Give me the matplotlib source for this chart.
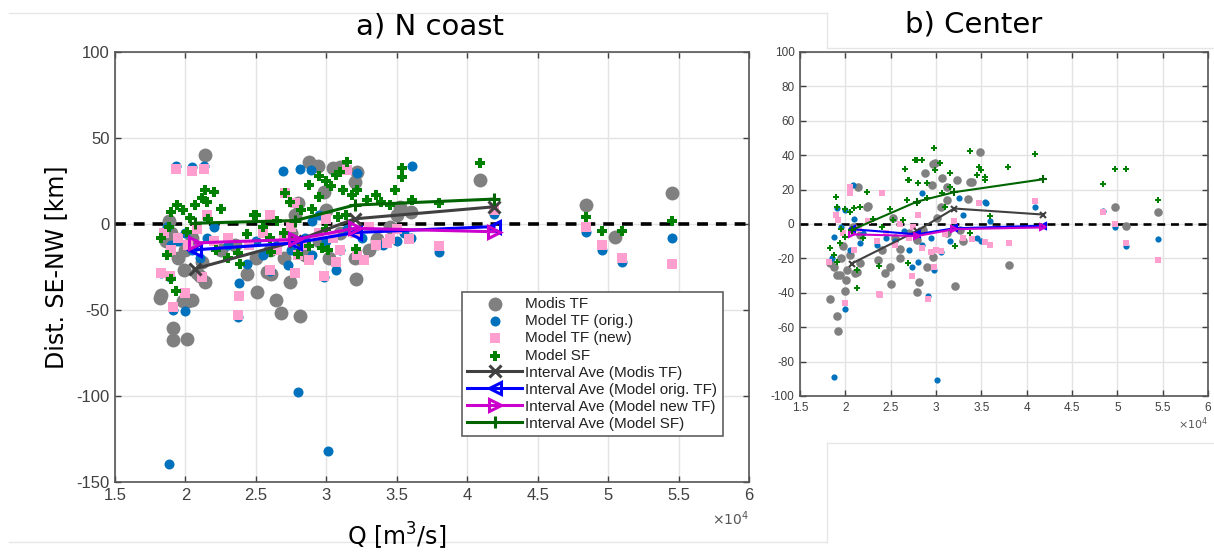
import matplotlib
matplotlib.use("Agg")
import matplotlib.pyplot as plt
from matplotlib.ticker import FuncFormatter, MultipleLocator
from matplotlib.lines import Line2D

# ---------------- data (Q in units of 1e4 m3/s, distance in km) ----------------
A_MODIS = [(2.14,40),(1.88,2),(1.83,-41),(1.82,-43),(1.91,-60.5),(1.91,-67.5),(2.01,-67),(2.05,-44),
           (1.98,-45),(2.02,-45),(2.08,-28.5),(1.99,-27),(2.14,-34),(2.1,-30),(1.95,-20),(2.0,-15),
           (1.9,-5),(1.86,-10),(2.05,-8),(2.12,-22),(2.44,-29),(2.51,-39.5),(2.64,-44),(2.68,-52),
           (2.81,-53.5),(2.74,-34),(2.58,-28),(2.61,-29),(3.21,-32),(2.5,-20),(2.6,-15),(2.88,36),
           (2.94,34),(3.05,32.5),(3.1,33),(3.22,30),(2.8,12),(2.98,18.5),(3.2,24.5),(3.52,10),
           (2.78,5),(3.0,8),(3.1,-5),(3.36,-9),(3.36,-11),(3.3,-15),(2.95,-10),(3.45,-2),(3.5,5),
           (3.6,7),(2.75,-5),(2.85,-18),(3.02,-20),(3.2,-20),(2.7,-20),(4.09,25.6),(4.84,11),
           (5.05,-7.5),(5.45,18),(2.35,-12),(2.25,-15)]
A_ORIG = [(1.93,34),(2.05,33),(2.13,34),(1.83,-28.5),(1.89,-31),(1.91,-50),(2.0,-50.5),(1.88,-139.5),
          (2.38,-34.5),(2.37,-54),(2.44,-23),(2.8,-97.5),(3.01,-132),(2.73,-24),(2.6,-27.5),(2.69,31),
          (2.81,32),(2.89,31.5),(3.22,29.5),(3.61,34),(3.07,-27),(2.98,-31),(3.8,-16),(4.84,-4.5),
          (4.96,-15),(5.1,-22),(5.45,-8),(4.19,6),(1.95,-10),(2.0,-5),(2.05,-15),(2.1,-20),(1.87,-2),
          (2.15,-8),(2.3,-12),(2.5,-10),(2.55,-18),(2.65,-12),(2.75,-15),(2.85,-8),(2.9,-18),(3.0,-10),
          (3.1,-15),(3.15,-3),(3.25,-8),(3.4,-12),(3.5,-10),(3.55,-5),(3.6,-8),(2.9,2),(2.95,5),
          (1.9,-12),(2.2,-2)]
A_NEW = [(1.93,32),(2.05,31),(2.13,32),(1.83,-28.5),(1.89,-30),(1.91,-48),(2.0,-40),(2.12,-31),
         (2.38,-42),(2.37,-53),(2.6,-26.7),(2.78,-28.5),(2.88,-21),(2.98,-30),(3.07,-22),(3.27,-21),
         (3.22,-18),(3.43,-11),(3.45,-9),(3.59,-9),(2.71,18),(3.15,31.5),(3.8,-13),(4.84,-2),
         (4.96,-12),(5.1,-20),(5.45,-23),(4.19,8),(1.85,-5),(1.95,-8),(2.02,-12),(2.08,-3),(2.15,5),
         (2.2,-10),(2.3,-8),(2.45,-12),(2.55,-5),(2.65,-15),(2.7,-8),(2.75,-2),(2.8,-18),(2.85,-12),
         (2.95,-5),(3.05,-8),(3.1,-15),(3.2,-5),(3.3,-2),(3.35,-12),(3.5,-3),(2.78,12),(2.6,5),
         (3.0,3),(1.9,-15)]
A_SF = [(2.14,20),(2.2,18.6),(2.12,15),(2.15,13),(2.07,11),(1.94,11),(1.9,7),(1.98,8),(2.25,9),
        (2.5,5),(2.03,3.5),(2.16,3),(1.88,-2),(2.01,-4.6),(1.83,-8),(2.44,-6),(1.9,-32),(1.93,-39),
        (2.37,-17),(2.39,-23),(1.87,-18),(3.15,36),(3.54,32.5),(3.54,27.5),(3.07,28.5),(2.88,22.7),
        (2.71,18),(2.74,13),(2.95,15.7),(3.03,22),(3.12,19.8),(3.22,19.8),(3.29,14),(3.39,13),
        (3.49,19.8),(3.45,11),(3.61,14),(3.08,4),(3.14,5),(2.9,9),(2.49,5),(2.61,-16),(2.8,-17.5),
        (2.88,-13),(2.97,-14),(3.01,-15),(3.21,-14.5),(4.09,35.5),(4.84,4),(4.96,-4),(5.1,-4),
        (5.45,2),(3.8,12),(2.6,-8),(2.7,-5),(2.95,28),(3.0,25),(3.1,30),(3.18,17),(2.82,8),
        (3.35,17),(2.65,2),(2.55,-2),(3.0,-3),(2.22,-15),(2.3,-20)]

A_INT_Q = [2.07, 2.78, 3.2, 4.19]
A_INT_MODIS = [-26, -10, 3, 10]
A_INT_ORIG = [-15, -11, -5, -1.5]
A_INT_NEW = [-11, -9, -2.5, -4.5]
A_INT_SF = [0.5, 2, 11, 14.5]

B_MODIS = [(3.49,42),(2.88,29.6),(2.97,35),(3.07,27),(3.23,25.6),(3.37,24.5),(3.35,14.5),(2.24,10),
           (3.8,-24),(4.97,10),(5.1,-1),(5.45,7),(2.97,-19),(2.9,-25),(1.91,-29.6),(1.83,-43.6),
           (1.91,-53.5),(1.92,-62),(2.0,-39),(2.01,-32.6),(2.11,-28.7),(2.44,-28.7),(2.5,-35),
           (2.49,-25),(2.81,-33.6),(2.79,-39.6),(3.21,-36),(1.87,-25),(1.83,-22.7),(2.02,-26.7),
           (2.16,-22.7),(1.97,-13),(2.16,-6.4),(2.36,-21),(2.6,-14.5),(2.79,-9.3),(2.86,-3.5),
           (3.12,-5.2),(3.26,-3.5),(3.01,3.5),(3.12,21.5),(2.96,22.7),(2.53,3.5),(2.09,-1.7),
           (3.12,14),(2.14,21.5),(2.25,10.5),(2.99,35.4),(2.6,-20),(3.4,24.4),(1.94,-29.6),
           (2.13,-28),(1.95,-20),(2.05,-18),(2.4,-15),(2.7,-5),(3.05,10),(3.3,-10),(2.55,-8)]
B_ORIG = [(1.87,-88.8),(3.01,-90.7),(2.0,-49.6),(2.91,-42),(2.74,-25),(2.98,-26.7),(2.8,-22),
          (4.09,10),(4.97,-2),(5.1,-13),(5.45,-8.7),(4.84,7.6),(3.55,12),(2.09,22.6),(1.91,9.3),
          (2.0,8),(1.87,-7.5),(2.16,-11),(3.54,12.8),(1.95,-2),(2.05,-15),(2.1,3),(2.2,-5),
          (2.35,-12),(2.45,-8),(2.55,-10),(2.65,-4),(2.7,-15),(2.85,-12),(2.95,-8),(3.05,-16),
          (3.15,-10),(3.2,-2),(3.3,5),(3.45,-8),(3.5,-10),(3.6,2),(2.85,18),(3.25,15),(1.85,-20)]
B_NEW = [(2.0,-46),(2.37,-40.7),(2.74,-30),(2.91,-43.6),(2.98,-25),(5.45,-21),(1.82,-22),
         (4.09,13.4),(4.84,7),(4.97,0),(5.1,-10.8),(3.8,-10.8),(3.47,12),(3.54,-10.7),(2.05,21.5),
         (2.05,18),(1.92,2.3),(2.38,-41),(1.9,5),(1.97,-5),(2.1,-15),(2.15,-3),(2.25,2),(2.35,-10),
         (2.45,-5),(2.55,-12),(2.6,0),(2.7,-8),(2.8,5),(2.85,-14),(2.95,-16),(3.0,-15),(3.05,-15.5),
         (3.1,-6),(3.2,2),(3.3,-8),(3.4,-9),(3.6,-12),(2.4,18),(2.75,-2)]
B_SF = [(2.98,44),(3.38,42.5),(4.09,40.6),(3.79,33),(4.84,23),(4.97,31.8),(5.1,31.8),(5.45,14),
        (2.77,37),(2.85,37),(2.66,31.8),(3.04,35.4),(3.15,29.6),(3.47,33),(3.5,31.4),(3.45,28.5),
        (3.54,25.6),(1.9,15.7),(2.24,18.6),(2.1,9.3),(2.16,10),(2.69,25.6),(2.8,23.8),(2.9,24),
        (2.99,31.4),(2.68,14),(2.79,12),(2.49,8.7),(3.07,18),(3.15,21.5),(1.91,10),(2.05,7),
        (1.83,-14),(1.94,-11),(2.0,-7.5),(2.53,2.3),(2.64,2.3),(3.21,-13),(3.38,-5.2),(3.6,4.6),
        (2.13,-37),(2.13,-26.7),(2.37,-24.4),(2.69,-22.7),(1.91,-22),(1.87,-18),(2.7,25.6),
        (2.79,37),(3.54,27.5),(2.0,9),(2.3,3),(2.4,-2),(2.9,15),(3.1,10),(2.2,-8),(1.95,-3)]

B_INT_Q = [2.07, 2.79, 3.2, 4.18]
B_INT_MODIS = [-23, -4, 9, 5.5]
B_INT_ORIG = [-3, -6, -2.5, -1]
B_INT_NEW = [-6, -7, -3, -2]
B_INT_SF = [-3.5, 13, 18.5, 26]

LABELS = ["Modis TF", "Model TF (orig.)", "Model TF (new)", "Model SF",
          "Interval Ave (Modis TF)", "Interval Ave (Model orig. TF)",
          "Interval Ave (Model new TF)", "Interval Ave (Model SF)"]
XTICKS = [1.5, 2, 2.5, 3, 3.5, 4, 4.5, 5, 5.5, 6]

# ---------------- styling ----------------
C_GRAY = "#808080"
C_BLUE = "#0072BD"
C_PINK = "#FF9FCF"
C_GREEN = "#008000"
L_GRAY = "#404040"
L_BLUE = "#0000FF"
L_MAG = "#CC00CC"
L_GREEN = "#006400"
TICKC = "#404040"
TICKFONT = "Liberation Sans"

W, H = 1214, 553
fig = plt.figure(figsize=(W / 100, H / 100), dpi=100)


def ax_rect(l, t, r, b):
    return [l / W, 1 - b / H, (r - l) / W, (b - t) / H]


def unzip(pts):
    return [p[0] for p in pts], [p[1] for p in pts]


def panel(ax, modis, orig, new, sf, iq, imod, iorig, inew, isf, ylim, ystep,
          sizes, lw, ms, tfs):
    s_gray, s_blue, s_pink, s_green = sizes
    ax.set_axisbelow(True)
    ax.grid(True, color="#e3e3e3", lw=1)
    ax.axhline(0, color="black", lw=lw + 0.4, ls=(0, (3, 2.2)), zorder=2)
    x, y = unzip(modis)
    ax.scatter(x, y, s=s_gray, c=C_GRAY, marker="o", linewidths=0, zorder=3, label=LABELS[0])
    x, y = unzip(orig)
    ax.scatter(x, y, s=s_blue, c=C_BLUE, marker="o", linewidths=0, zorder=4, label=LABELS[1])
    x, y = unzip(new)
    ax.scatter(x, y, s=s_pink, c=C_PINK, marker="s", linewidths=0, zorder=5, label=LABELS[2])
    x, y = unzip(sf)
    ax.scatter(x, y, s=s_green, c=C_GREEN, marker="P", linewidths=0, zorder=6, label=LABELS[3])
    ax.plot(iq, imod, color=L_GRAY, lw=lw, marker="x", ms=ms, mew=lw, zorder=7, label=LABELS[4])
    ax.plot(iq, iorig, color=L_BLUE, lw=lw, marker="<", ms=ms, mew=lw, mfc="none", zorder=8, label=LABELS[5])
    ax.plot(iq, inew, color=L_MAG, lw=lw, marker=">", ms=ms, mew=lw, mfc="none", zorder=9, label=LABELS[6])
    ax.plot(iq, isf, color=L_GREEN, lw=lw, marker="+", ms=ms + 1, mew=lw, zorder=10, label=LABELS[7])
    ax.set_xlim(1.5, 6)
    ax.set_ylim(*ylim)
    ax.set_xticks(XTICKS)
    ax.yaxis.set_major_locator(MultipleLocator(ystep))
    ax.xaxis.set_major_formatter(FuncFormatter(lambda v, p: "%g" % v))
    ax.yaxis.set_major_formatter(FuncFormatter(lambda v, p: "%g" % v))
    ax.tick_params(direction="in", top=True, right=True, length=4, width=1,
                   colors=TICKC, labelsize=tfs, pad=4)
    for lab in ax.get_xticklabels() + ax.get_yticklabels():
        lab.set_family(TICKFONT)
    for sp in ax.spines.values():
        sp.set_color("#555555")
        sp.set_linewidth(1.2)


# ---------------- panel a ----------------
axa = fig.add_axes(ax_rect(115, 52, 749, 482))
panel(axa, A_MODIS, A_ORIG, A_NEW, A_SF, A_INT_Q, A_INT_MODIS, A_INT_ORIG, A_INT_NEW,
      A_INT_SF, (-150, 100), 50, (100, 52, 45, 60), 2.2, 8, 12)
leg = axa.legend(loc="upper left", bbox_to_anchor=((462 - 115) / 634, (482 - 292) / 430),
                 prop={"family": TICKFONT, "size": 11}, frameon=True, fancybox=False,
                 handlelength=3.6, handletextpad=0.2, labelspacing=0.2, borderpad=0.35,
                 borderaxespad=0, scatterpoints=1)
leg.get_frame().set_edgecolor("#606060")
leg.get_frame().set_linewidth(1.2)
leg.get_frame().set_alpha(1)
for t in leg.get_texts():
    t.set_color("#222222")

fig.text(430 / W, 1 - 27 / H, "a) N coast", ha="center", va="center",
         fontsize=21, family="DejaVu Sans")
fig.text(56 / W, 1 - 267 / H, "Dist. SE-NW [km]", ha="center", va="center",
         rotation=90, fontsize=17, family="DejaVu Sans")
fig.text(397 / W, 1 - 536 / H, "Q [m$^3$/s]", ha="center", va="center",
         fontsize=17, family="DejaVu Sans")
fig.text(749 / W, 1 - 519 / H, r"$\times10^4$", ha="right", va="center",
         fontsize=10, color="#555555")

# ---------------- panel b ----------------
axb = fig.add_axes(ax_rect(800, 52, 1208, 396))
panel(axb, B_MODIS, B_ORIG, B_NEW, B_SF, B_INT_Q, B_INT_MODIS, B_INT_ORIG, B_INT_NEW,
      B_INT_SF, (-100, 100), 20, (38, 20, 16, 22), 1.5, 5, 8.5)
fig.text(974 / W, 1 - 25 / H, "b) Center", ha="center", va="center",
         fontsize=21, family="DejaVu Sans")
fig.text(1208 / W, 1 - 424 / H, r"$\times10^4$", ha="right", va="center",
         fontsize=8, color="#555555")

# ---------------- faint screenshot frame lines ----------------
FRAME = "#e6e6e6"
for (x0, y0, x1, y1) in [(9, 13, 827, 13), (827, 13, 827, 48), (827, 48, 1214, 48),
                         (827, 443, 1214, 443), (827, 443, 827, 542), (9, 542, 827, 542)]:
    fig.add_artist(Line2D([x0 / W, x1 / W], [1 - y0 / H, 1 - y1 / H],
                          transform=fig.transFigure, color=FRAME, lw=1))

fig.savefig("out.png", dpi=100, facecolor="white")
